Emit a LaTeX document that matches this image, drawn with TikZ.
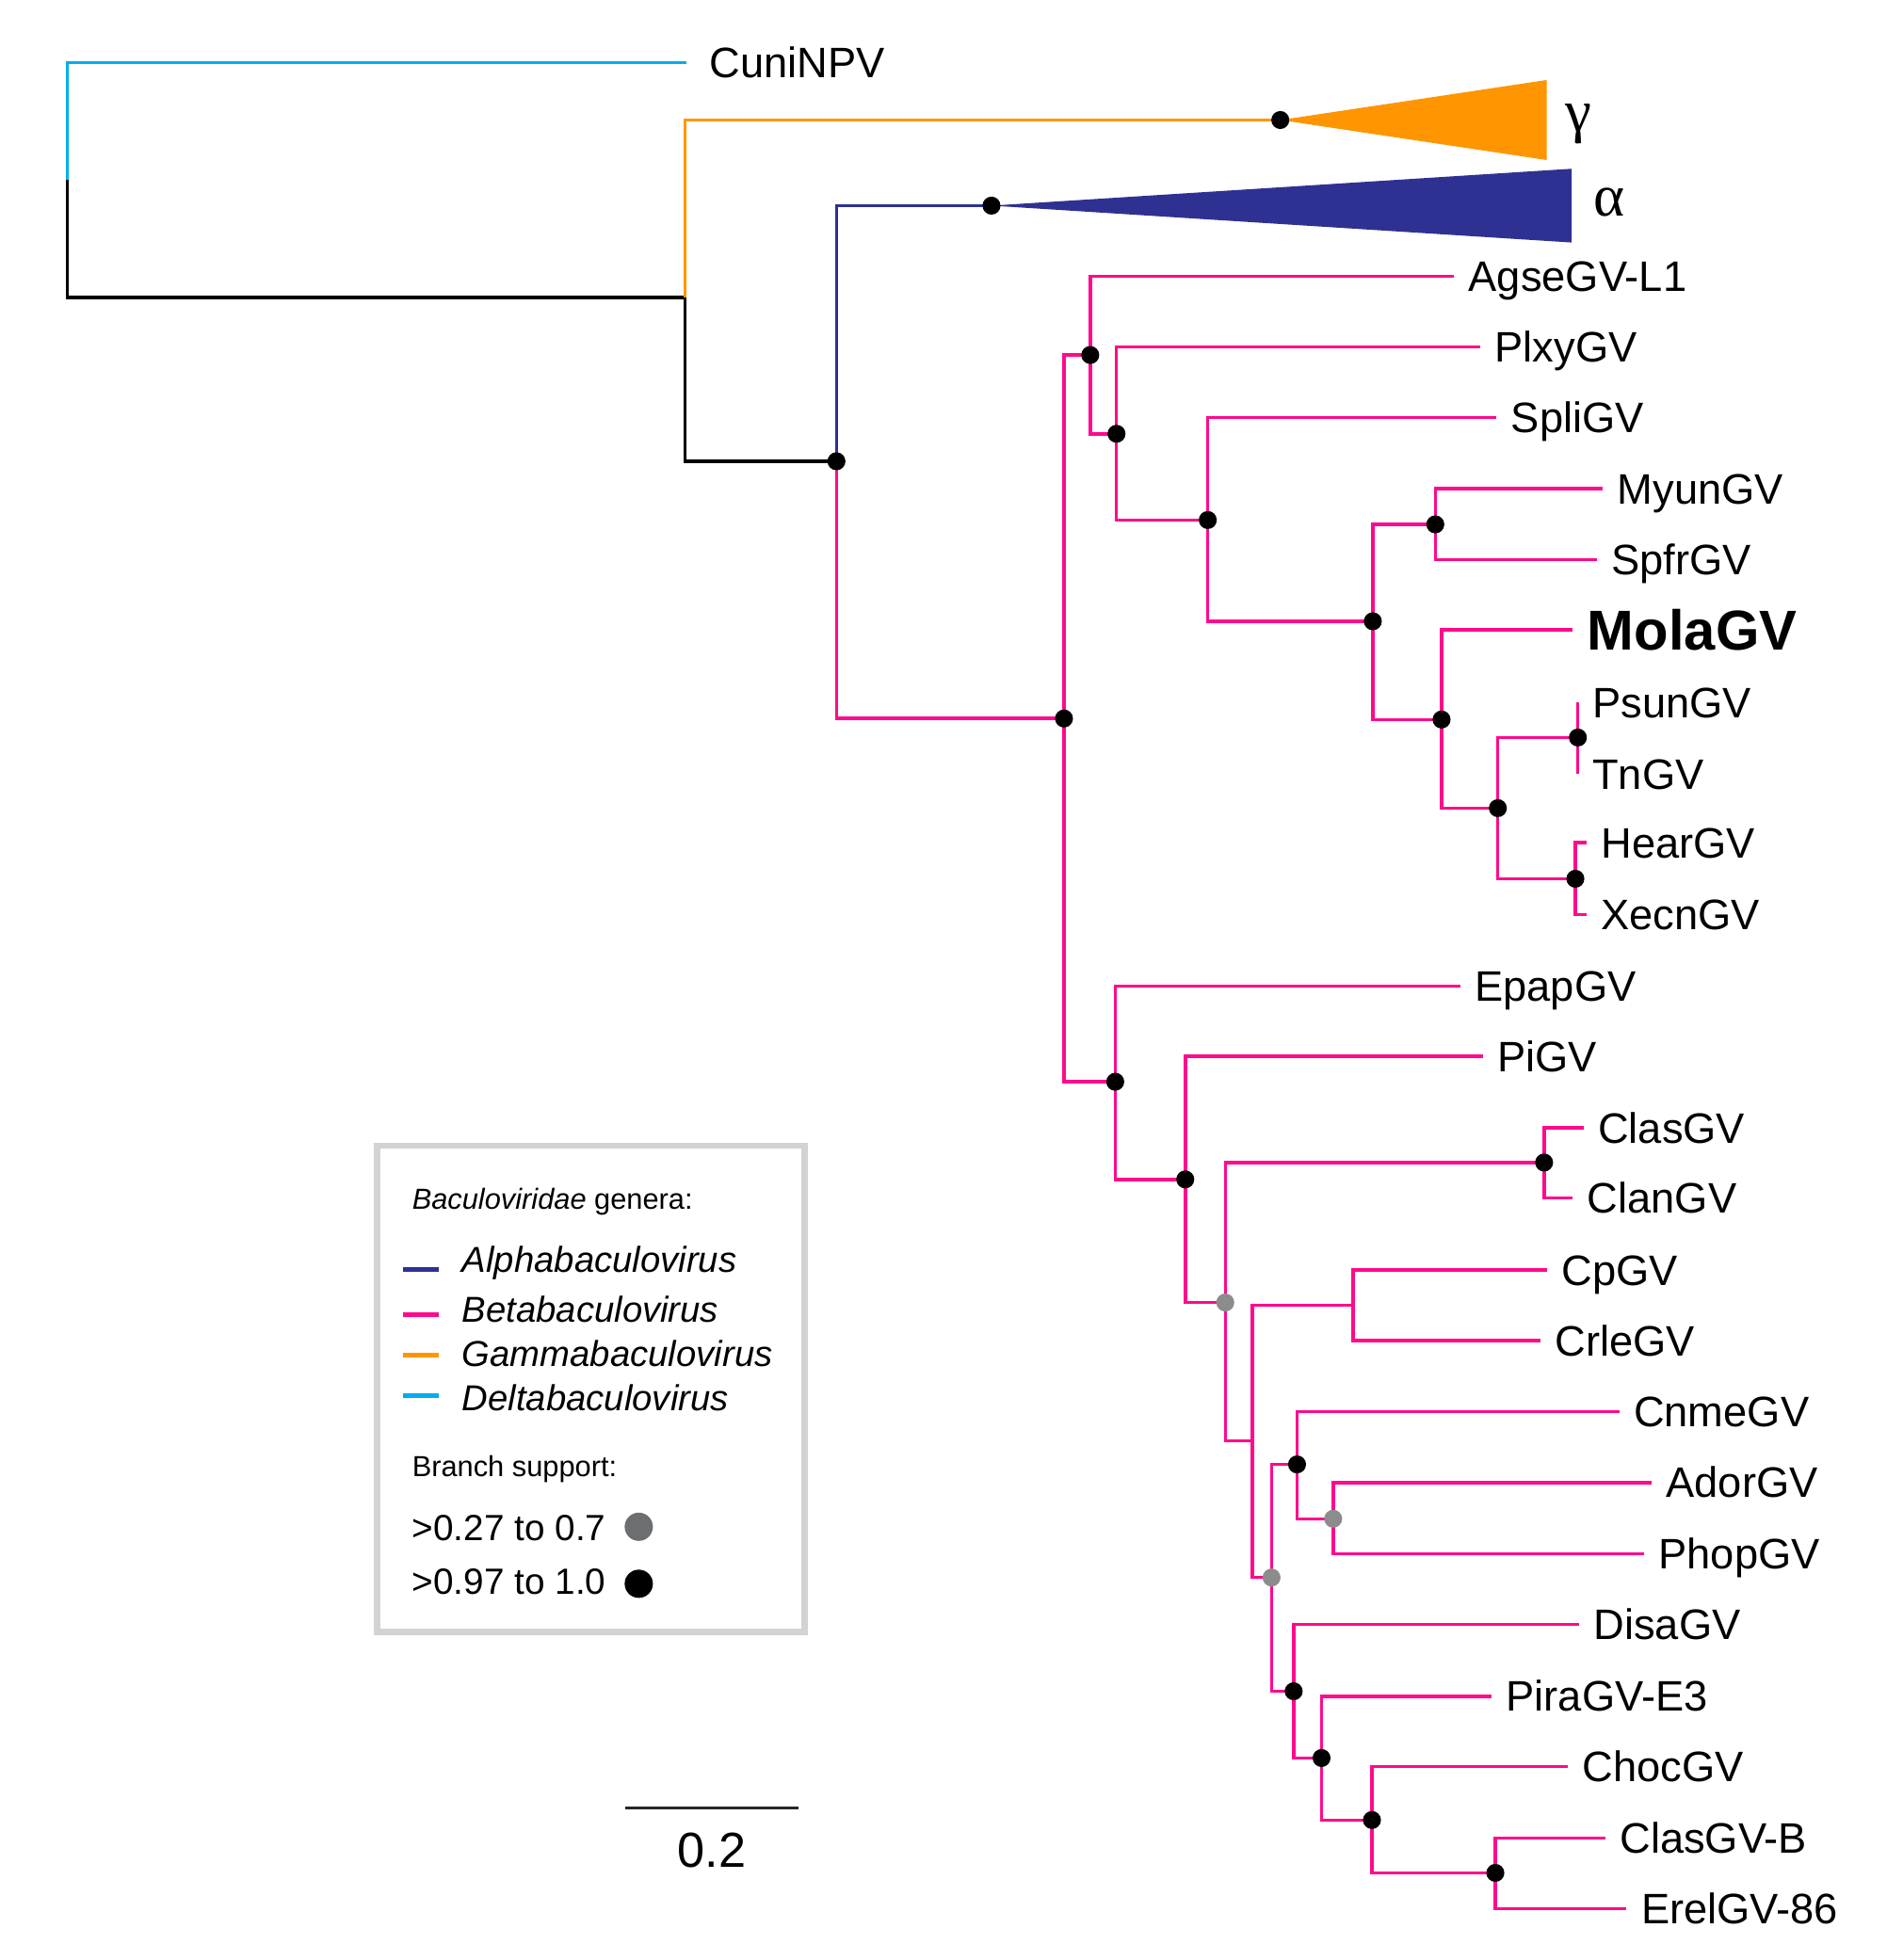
\documentclass[tikz,border=0pt]{standalone}
\usepackage{fontspec}
\setmainfont{Liberation Sans}
\newfontfamily\grfont{Liberation Serif}
\usepackage{tikz}
\usepackage{xcolor}

\definecolor{deltacol}{HTML}{00AEEF}
\definecolor{gammacol}{HTML}{FF9500}
\definecolor{alphacol}{HTML}{2E3192}
\definecolor{betacol}{HTML}{FF0A8C}
\definecolor{lowsup}{HTML}{8C8C8C}
\definecolor{lowkey}{HTML}{6D6E71}
\definecolor{legframe}{HTML}{D1D3D4}

\tikzset{
	branch/.style={line width=0.75pt},
	tip/.style={anchor=west, inner xsep=1.1mm, inner ysep=0pt, text height=6.9pt, text depth=0pt, font=\fontsize{9.7}{11}\selectfont},
	hisup/.style={fill=black},
	losup/.style={fill=lowsup},
	keyline/.style={line width=1pt},
	keytext/.style={anchor=base west, inner sep=0pt, font=\fontsize{8.2}{10}\selectfont\itshape},
	keyhead/.style={anchor=base west, inner sep=0pt, font=\fontsize{6.6}{8}\selectfont},
}

\begin{document}
\begin{tikzpicture}[x=0.1mm, y=-0.1mm]
		\useasboundingbox (0,0) rectangle (1509,1568);

		\coordinate (root) at (54,144);
		\coordinate (nG) at (548,238);
		\coordinate (nGam) at (1024,96);
		\coordinate (nA) at (669,369);
		\coordinate (nAlp) at (793,164.5);
		\coordinate (nB) at (851,574.8);
		\coordinate (nB1) at (872,284);
		\coordinate (nB2) at (893,347);
		\coordinate (nB3) at (966,416);
		\coordinate (nB4) at (1098,497);
		\coordinate (nB5) at (1148,419.5);
		\coordinate (nB6) at (1153,575.6);
		\coordinate (nB7) at (1198,646.5);
		\coordinate (nB8) at (1262,590);
		\coordinate (nB9) at (1260,703);
		\coordinate (nC) at (892,865.4);
		\coordinate (nC1) at (948,943.5);
		\coordinate (nC2) at (980,1042);
		\coordinate (nC3) at (1235,930);
		\coordinate (nC4) at (1001.5,1152.6);
		\coordinate (nC5) at (1082.4,1044);
		\coordinate (nC6) at (1017,1262);
		\coordinate (nC7) at (1037.4,1171.5);
		\coordinate (nC8) at (1066.3,1215);
		\coordinate (nC9) at (1034.7,1353);
		\coordinate (nC10) at (1057,1406.4);
		\coordinate (nC11) at (1097.3,1456);
		\coordinate (nC12) at (1196,1498.3);

		\node[tip, inner xsep=1.8mm] (cuni) at (549,50) {CuniNPV};
		\node[tip] (agse) at (1163,221) {AgseGV-L1};
		\node[tip] (plxy) at (1184,277.6) {PlxyGV};
		\node[tip] (spli) at (1197,334) {SpliGV};
		\node[tip] (myun) at (1282,391) {MyunGV};
		\node[tip] (spfr) at (1277,447.6) {SpfrGV};
		\node[tip, text height=9.2pt, font=\fontsize{12.8}{14}\selectfont\bfseries] (mola) at (1258,504) {MolaGV};
		\node[tip] (psun) at (1262,562) {PsunGV};
		\node[tip] (tn) at (1262,619) {TnGV};
		\node[tip] (hear) at (1269,674) {HearGV};
		\node[tip] (xecn) at (1269,731.6) {XecnGV};
		\node[tip] (epap) at (1168,788.8) {EpapGV};
		\node[tip] (pi) at (1186,845) {PiGV};
		\node[tip] (clas) at (1266.5,902.2) {ClasGV};
		\node[tip] (clan) at (1258,958.3) {ClanGV};
		\node[tip] (cp) at (1237.5,1016) {CpGV};
		\node[tip] (crle) at (1232,1072.6) {CrleGV};
		\node[tip] (cnme) at (1295,1129.3) {CnmeGV};
		\node[tip] (ador) at (1321,1186) {AdorGV};
		\node[tip] (phop) at (1315,1243) {PhopGV};
		\node[tip] (disa) at (1263,1299.6) {DisaGV};
		\node[tip] (pira) at (1193,1357) {PiraGV-E3};
		\node[tip] (choc) at (1254,1413.4) {ChocGV};
		\node[tip] (clasb) at (1284,1470.6) {ClasGV-B};
		\node[tip] (erel) at (1301,1527) {ErelGV-86};

		\fill[gammacol] (nGam) -- (1237,64) -- (1237,128) -- cycle;
		\fill[alphacol] (nAlp) -- (1257,135) -- (1257,194) -- cycle;
		\node[anchor=base west, inner sep=0pt, font=\fontsize{13.5}{15}\selectfont\grfont] (gam) at (1251,105) {γ};
		\node[anchor=base west, inner sep=0pt, font=\fontsize{13.5}{15}\selectfont\grfont] (alp) at (1274,172.6) {α};

		\draw[branch, deltacol] (root) |- (cuni.west);
		\draw[branch, black] (root) |- (nG);
		\draw[branch, gammacol] (nG) |- (nGam);
		\draw[branch, black] (nG) |- (nA);
		\draw[branch, alphacol] (nA) |- (nAlp);
		\draw[branch, betacol] (nA) |- (nB);

		\draw[branch, betacol] (nB) |- (nB1);
		\draw[branch, betacol] (nB) |- (nC);
		\draw[branch, betacol] (nB1) |- (agse.west);
		\draw[branch, betacol] (nB1) |- (nB2);
		\draw[branch, betacol] (nB2) |- (plxy.west);
		\draw[branch, betacol] (nB2) |- (nB3);
		\draw[branch, betacol] (nB3) |- (spli.west);
		\draw[branch, betacol] (nB3) |- (nB4);
		\draw[branch, betacol] (nB4) |- (nB5);
		\draw[branch, betacol] (nB4) |- (nB6);
		\draw[branch, betacol] (nB5) |- (myun.west);
		\draw[branch, betacol] (nB5) |- (spfr.west);
		\draw[branch, betacol] (nB6) |- (mola.west);
		\draw[branch, betacol] (nB6) |- (nB7);
		\draw[branch, betacol] (nB7) |- (nB8);
		\draw[branch, betacol] (nB7) |- (nB9);
		\draw[branch, betacol] (nB8) |- (psun.west);
		\draw[branch, betacol] (nB8) |- (tn.west);
		\draw[branch, betacol] (nB9) |- (hear.west);
		\draw[branch, betacol] (nB9) |- (xecn.west);

		\draw[branch, betacol] (nC) |- (epap.west);
		\draw[branch, betacol] (nC) |- (nC1);
		\draw[branch, betacol] (nC1) |- (pi.west);
		\draw[branch, betacol] (nC1) |- (nC2);
		\draw[branch, betacol] (nC2) |- (nC3);
		\draw[branch, betacol] (nC2) |- (nC4);
		\draw[branch, betacol] (nC3) |- (clas.west);
		\draw[branch, betacol] (nC3) |- (clan.west);
		\draw[branch, betacol] (nC4) |- (nC5);
		\draw[branch, betacol] (nC4) |- (nC6);
		\draw[branch, betacol] (nC5) |- (cp.west);
		\draw[branch, betacol] (nC5) |- (crle.west);
		\draw[branch, betacol] (nC6) |- (nC7);
		\draw[branch, betacol] (nC6) |- (nC9);
		\draw[branch, betacol] (nC7) |- (cnme.west);
		\draw[branch, betacol] (nC7) |- (nC8);
		\draw[branch, betacol] (nC8) |- (ador.west);
		\draw[branch, betacol] (nC8) |- (phop.west);
		\draw[branch, betacol] (nC9) |- (disa.west);
		\draw[branch, betacol] (nC9) |- (nC10);
		\draw[branch, betacol] (nC10) |- (pira.west);
		\draw[branch, betacol] (nC10) |- (nC11);
		\draw[branch, betacol] (nC11) |- (choc.west);
		\draw[branch, betacol] (nC11) |- (nC12);
		\draw[branch, betacol] (nC12) |- (clasb.west);
		\draw[branch, betacol] (nC12) |- (erel.west);

		\foreach \n in {nGam, nAlp, nA, nB, nB1, nB2, nB3, nB4, nB5, nB6, nB7, nB8, nB9, nC, nC1, nC3, nC7, nC9, nC10, nC11, nC12}
			\fill[hisup] (\n) circle (0.72mm);
		\foreach \n in {nC2, nC6, nC8}
			\fill[losup] (\n) circle (0.72mm);

		\draw[legframe, line width=1.42pt] (301.5,916.5) rectangle (643.5,1305.5);
		\node[keyhead] (khead) at (329,967) {\textit{Baculoviridae} genera:};
		\draw[keyline, alphacol] (322.6,1015.5) -- (351,1015.5);
		\draw[keyline, betacol] (322.6,1051.7) -- (351,1051.7);
		\draw[keyline, gammacol] (322.6,1084) -- (351,1084);
		\draw[keyline, deltacol] (322.6,1116.6) -- (351,1116.6);
		\node[keytext] (kalp) at (369,1018) {Alphabaculovirus};
		\node[keytext] (kbet) at (369,1058) {Betabaculovirus};
		\node[keytext] (kgam) at (369,1093) {Gammabaculovirus};
		\node[keytext] (kdel) at (369,1128.4) {Deltabaculovirus};
		\node[keyhead] (ksup) at (329,1181.4) {Branch support:};
		\node[keytext, font=\fontsize{8.3}{10}\selectfont] (klo) at (329,1232.6) {>0.27 to 0.7};
		\node[keytext, font=\fontsize{8.3}{10}\selectfont] (khi) at (329,1275.5) {>0.97 to 1.0};
		\fill[lowkey] (510.9,1221.4) circle (1.13mm);
		\fill[black] (510.9,1267) circle (1.13mm);

		\coordinate (sbl) at (500.3,1446.5);
		\coordinate (sbr) at (638.9,1446.5);
		\draw[line width=0.65pt, black!85] (sbl) -- (sbr);
		\node[anchor=base, inner sep=0pt, font=\fontsize{11.2}{13}\selectfont] (sblab) at (569.4,1493.6) {0.2};
\end{tikzpicture}
\end{document}
